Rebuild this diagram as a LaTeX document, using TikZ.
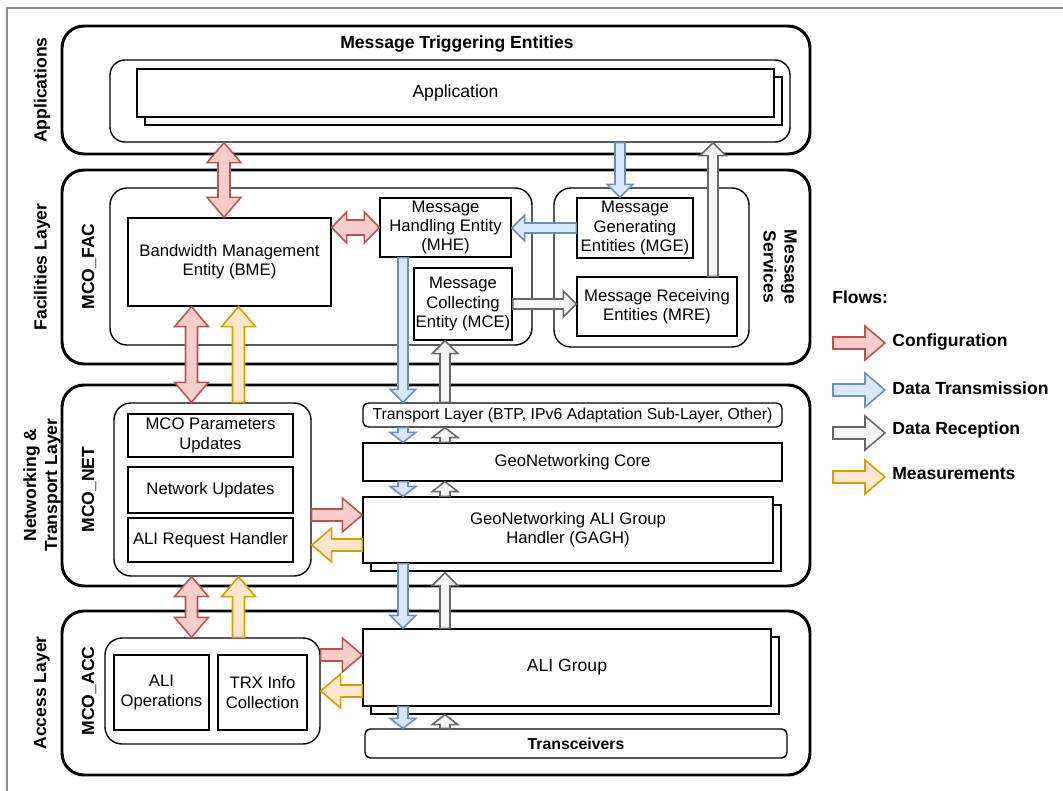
\documentclass[tikz,border=0pt]{standalone}
\usepackage{fontspec}
\setmainfont{Liberation Sans}
\usetikzlibrary{calc,shadows}
\definecolor{cfgfill}{HTML}{F8CECC}
\definecolor{cfgline}{HTML}{B85450}
\definecolor{txfill}{HTML}{DAE8FC}
\definecolor{txline}{HTML}{6C8EBF}
\definecolor{rxfill}{HTML}{F5F5F5}
\definecolor{rxline}{HTML}{666666}
\definecolor{msfill}{HTML}{FFE6CC}
\definecolor{msline}{HTML}{D79B00}
\definecolor{framegray}{HTML}{8C8C8C}

\tikzset{
  flow size/.code n args={3}{\def\flowhl{#1}\def\flowhw{#2}\def\flowsw{#3}},
  flowbig/.style={flow size={0.40cm}{0.34cm}{0.12cm}},
  flowmid/.style={flow size={0.26cm}{0.26cm}{0.10cm}},
  flowsmall/.style={flow size={0.20cm}{0.26cm}{0.10cm}},
  flowstub/.style={flow size={0.30cm}{0.31cm}{0.15cm}},
  cfg/.style={draw=cfgline,fill=cfgfill},
  tx/.style={draw=txline,fill=txfill},
  rx/.style={draw=rxline,fill=rxfill},
  meas/.style={draw=msline,fill=msfill},
  flowline/.style={line width=0.9pt}
}

% block arrow from #2 to #3
\newcommand\flow[3][]{%
  \begin{scope}[#1]
    \coordinate (fs) at (#2);
    \coordinate (fe) at (#3);
    \coordinate (fh) at ($(fe)!\flowhl!(fs)$);
    \draw[flowline,#1] ($(fs)!\flowsw!90:(fe)$) -- ($(fh)!\flowsw!90:(fe)$) -- ($(fh)!\flowhw!90:(fe)$) -- (fe)
      -- ($(fh)!\flowhw!-90:(fe)$) -- ($(fh)!\flowsw!-90:(fe)$) -- ($(fs)!\flowsw!-90:(fe)$) -- cycle;
  \end{scope}}
% block arrow with two heads
\newcommand\flowboth[3][]{%
  \begin{scope}[#1]
    \coordinate (fs) at (#2);
    \coordinate (fe) at (#3);
    \coordinate (fh) at ($(fe)!\flowhl!(fs)$);
    \coordinate (fg) at ($(fs)!\flowhl!(fe)$);
    \draw[flowline,#1] (fs) -- ($(fg)!\flowhw!90:(fe)$) -- ($(fg)!\flowsw!90:(fe)$) -- ($(fh)!\flowsw!90:(fe)$)
      -- ($(fh)!\flowhw!90:(fe)$) -- (fe) -- ($(fh)!\flowhw!-90:(fe)$) -- ($(fh)!\flowsw!-90:(fe)$)
      -- ($(fg)!\flowsw!-90:(fe)$) -- ($(fg)!\flowhw!-90:(fe)$) -- cycle;
  \end{scope}}

\begin{document}
\begin{tikzpicture}[
  x=0.02cm, y=-0.02cm,
  wh/.style 2 args={minimum width=#1*0.02cm,minimum height=#2*0.02cm},
  layer/.style={draw,line width=1.7pt,rounded corners=0.44cm},
  group/.style={draw,line width=0.8pt,rounded corners=0.34cm},
  entity/.style={draw,fill=white,line width=0.8pt,align=center,inner sep=1pt,font=\fontsize{9.5}{11}\selectfont},
  stack/.style={entity,copy shadow={shadow xshift=0.16cm,shadow yshift=-0.16cm}},
  sidelabel/.style={rotate=90,align=center,font=\bfseries\fontsize{10}{12}\selectfont},
  sidelabelr/.style={rotate=-90,align=center,font=\bfseries\fontsize{10}{12}\selectfont},
  title/.style={font=\bfseries\fontsize{10}{12}\selectfont},
  legend/.style={anchor=west,inner sep=0pt,font=\bfseries\fontsize{10}{12}\selectfont}
]
\useasboundingbox (0,0) rectangle (1063,791);
\draw[framegray,line width=1.2pt] (7,791) -- (7,8) -- (1063,8);

% Applications
\node[layer,wh={748}{128}] (applayer) at (436,90) {};
\node[sidelabel] (applbl) at (42,90) {Applications};
\node[title] (mte) at (457,44) {Message Triggering Entities};
\node[group,wh={680}{82},rounded corners=0.3cm] (appgrp) at (450,101) {};
\node[stack,wh={637}{48},font=\fontsize{10}{12}\selectfont] (app) at (455.5,93) {Application};

% Facilities layer
\node[layer,wh={748}{194}] (faclayer) at (436,267) {};
\node[sidelabel] (faclbl) at (42,267) {Facilities Layer};
\node[sidelabel] (mcofaclbl) at (89,266.5) {MCO\_FAC};
\node[group,wh={422}{157}] (mcofac) at (321,266.5) {};
\node[entity,wh={203}{88}] (bme) at (229.5,262) {Bandwidth Management\\Entity (BME)};
\node[entity,wh={131}{59}] (mhe) at (445.5,227.5) {Message\\Handling Entity\\(MHE)};
\node[entity,wh={96}{72}] (mce) at (463,304) {Message\\Collecting\\Entity (MCE)};
\node[group,wh={195}{159}] (msgsvc) at (651.5,267.5) {};
\node[sidelabelr] (msgsvclbl) at (780,267) {Message\\Services};
\node[entity,wh={116}{60}] (mge) at (635,228) {Message\\Generating\\Entities (MGE)};
\node[entity,wh={160}{59}] (mre) at (657,306.5) {Message Receiving\\Entities (MRE)};

% Networking & Transport layer
\node[layer,wh={748}{201}] (netlayer) at (436,485.5) {};
\node[sidelabel] (netlbl) at (42,485) {Networking \&\\Transport Layer};
\node[sidelabel] (mconetlbl) at (89,489.5) {MCO\_NET};
\node[group,wh={197}{173}] (mconet) at (212.5,489.5) {};
\node[entity,wh={165}{43}] (params) at (210.5,435.5) {MCO Parameters\\Updates};
\node[entity,wh={165}{46}] (netupd) at (210.5,490) {Network Updates};
\node[entity,wh={165}{44}] (alireq) at (210.5,540) {ALI Request Handler};
\node[entity,wh={419}{24},rounded corners=3pt,font=\fontsize{9}{11}\selectfont] (transport) at (572.5,415) {Transport Layer (BTP, IPv6 Adaptation Sub-Layer, Other)};
\node[entity,wh={419}{38}] (geocore) at (572.5,462) {GeoNetworking Core};
\node[stack,wh={410}{66}] (gagh) at (568,530) {GeoNetworking ALI Group\\Handler (GAGH)};

% Access layer
\node[layer,wh={748}{164}] (acclayer) at (436,693) {};
\node[sidelabel] (acclbl) at (42,693) {Access Layer};
\node[sidelabel] (mcoacclbl) at (89,691) {MCO\_ACC};
\node[group,wh={215}{106}] (mcoacc) at (212.5,691) {};
\node[entity,wh={95}{75}] (aliops) at (161.5,692.5) {ALI\\Operations};
\node[entity,wh={89}{75}] (trxinfo) at (262.5,692.5) {TRX Info\\Collection};
\node[stack,wh={408}{77},font=\fontsize{10}{12}\selectfont] (aligrp) at (567,667.5) {ALI Group};
\node[entity,wh={422}{29},rounded corners=3pt,font=\bfseries\fontsize{9}{11}\selectfont] (trx) at (576,743.5) {Transceivers};

% columns and rows of the flows
\coordinate (cfgapp) at (224,0);
\coordinate (txapp) at (620,0);
\coordinate (rxapp) at (713,0);
\coordinate (txcol) at (403,0);
\coordinate (rxcol) at (445,0);
\coordinate (cfgcol) at (191.5,0);
\coordinate (mscol) at (238.5,0);
\coordinate (cfgnetrow) at (0,515);
\coordinate (msnetrow) at (0,545);
\coordinate (cfgaccrow) at (0,655);
\coordinate (msaccrow) at (0,691);

% flows
\flowboth[cfg,flowbig]{appgrp.south -| cfgapp}{bme.north -| cfgapp}
\flow[tx,flowmid]{appgrp.south -| txapp}{mge.north -| txapp}
\flow[rx,flowmid]{mre.north -| rxapp}{appgrp.south -| rxapp}
\flowboth[cfg,flowstub]{bme.east |- mhe.west}{mhe.west}
\flow[tx,flowmid]{mge.west}{mhe.east |- mge.west}
\flow[rx,flowmid]{mce.east}{mre.west |- mce.east}
\flow[tx,flowmid]{mhe.south -| txcol}{transport.north -| txcol}
\flow[rx,flowmid]{transport.north -| rxcol}{mce.south -| rxcol}
\flowboth[cfg,flowbig]{bme.south -| cfgcol}{mconet.north -| cfgcol}
\flow[meas,flowbig]{mconet.north -| mscol}{bme.south -| mscol}
\flow[tx,flowsmall]{transport.south -| txcol}{geocore.north -| txcol}
\flow[rx,flowsmall]{geocore.north -| rxcol}{transport.south -| rxcol}
\flow[tx,flowsmall]{geocore.south -| txcol}{gagh.north -| txcol}
\flow[rx,flowsmall]{gagh.north -| rxcol}{geocore.south -| rxcol}
\flow[cfg,flowbig]{mconet.east |- cfgnetrow}{gagh.west |- cfgnetrow}
\flow[meas,flowbig]{gagh.west |- msnetrow}{mconet.east |- msnetrow}
\flow[tx,flowmid]{gagh.south -| txcol}{aligrp.north -| txcol}
\flow[rx,flowmid]{aligrp.north -| rxcol}{[yshift=-0.18cm]gagh.south -| rxcol}
\flowboth[cfg,flowbig]{mconet.south -| cfgcol}{mcoacc.north -| cfgcol}
\flow[meas,flowbig]{mcoacc.north -| mscol}{mconet.south -| mscol}
\flow[cfg,flowbig]{mcoacc.east |- cfgaccrow}{aligrp.west |- cfgaccrow}
\flow[meas,flowbig]{aligrp.west |- msaccrow}{mcoacc.east |- msaccrow}
\flow[tx,flowsmall]{aligrp.south -| txcol}{trx.north -| txcol}
\flow[rx,flowsmall]{trx.north -| rxcol}{[yshift=-0.16cm]aligrp.south -| rxcol}

% legend
\node[legend] (flowslbl) at (832,297) {Flows:};
\node[legend] (cfglbl) at (892,342) {Configuration};
\node[legend] (txlbl) at (892,388) {Data Transmission};
\node[legend] (rxlbl) at (892,430) {Data Reception};
\node[legend] (mslbl) at (892,474) {Measurements};
\coordinate (cfgkey) at (833,343);
\coordinate (txkey) at (833,390);
\coordinate (rxkey) at (833,433);
\coordinate (mskey) at (833,477);
\flow[cfg,flowbig]{cfgkey}{[xshift=-0.14cm]cfglbl.west |- cfgkey}
\flow[tx,flowbig]{txkey}{[xshift=-0.14cm]txlbl.west |- txkey}
\flow[rx,flowbig]{rxkey}{[xshift=-0.14cm]rxlbl.west |- rxkey}
\flow[meas,flowbig]{mskey}{[xshift=-0.14cm]mslbl.west |- mskey}
\end{tikzpicture}
\end{document}
